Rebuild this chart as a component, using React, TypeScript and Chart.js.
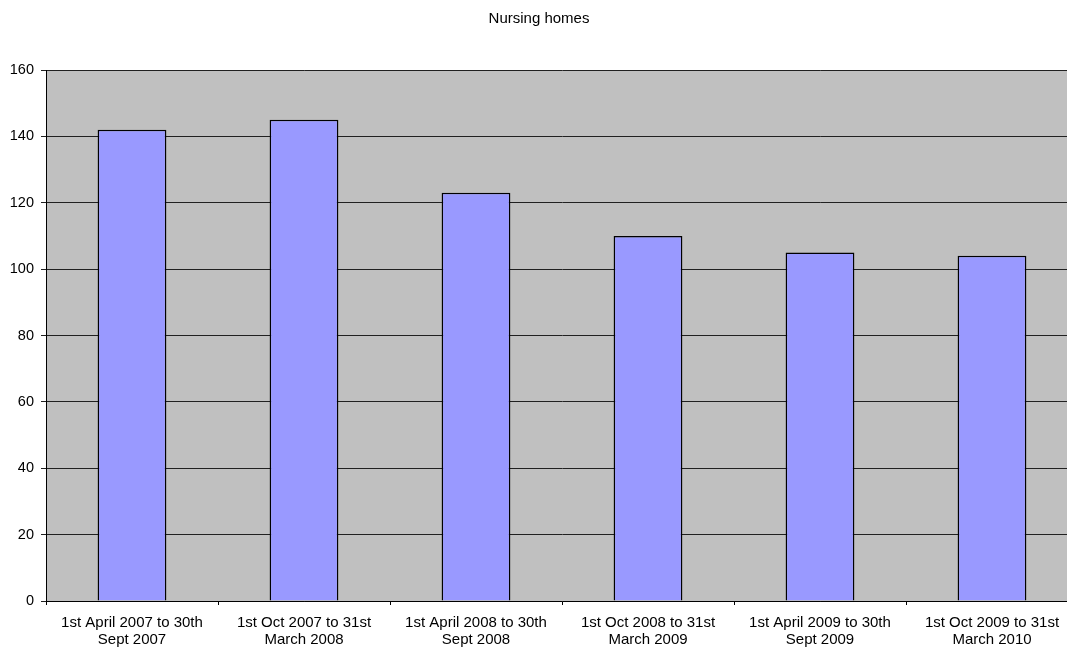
import React, { useEffect, useRef } from "react";
import { Chart, registerables } from "chart.js";

Chart.register(...registerables);

const chartTitle = "Nursing homes";
const periodLabels: string[][] = [
  ["1st April 2007 to 30th", "Sept 2007"],
  ["1st Oct 2007 to 31st", "March 2008"],
  ["1st April 2008 to 30th", "Sept 2008"],
  ["1st Oct 2008 to 31st", "March 2009"],
  ["1st April 2009 to 30th", "Sept 2009"],
  ["1st Oct 2009 to 31st", "March 2010"],
];
const homeCounts: number[] = [142, 145, 123, 110, 105, 104];
const yMin = 0;
const yMax = 160;
const yStep = 20;

const FONT = "'Liberation Sans', Arial, sans-serif";

// The drawing surface is a little wider than the visible frame; the plot
// panel runs past the right edge and is clipped by the container.
const CANVAS_W = 1085;
const CANVAS_H = 651;

// Fills the plot area with a grey panel before anything else is drawn.
const plotBackground = {
  id: "plotBackground",
  beforeDraw(chart: Chart) {
    const { ctx, chartArea } = chart;
    if (!chartArea) return;
    ctx.save();
    ctx.fillStyle = "#C0C0C0";
    ctx.fillRect(
      chartArea.left,
      chartArea.top,
      chartArea.right - chartArea.left,
      chartArea.bottom - chartArea.top
    );
    ctx.restore();
  },
};

export default function App() {
  const canvasRef = useRef<HTMLCanvasElement | null>(null);

  useEffect(() => {
    document.body.style.margin = "0";
    const canvas = canvasRef.current;
    if (!canvas) return;
    const chart = new Chart(canvas, {
      type: "bar",
      data: {
        labels: periodLabels,
        datasets: [
          {
            data: homeCounts,
            backgroundColor: "#9999FF",
            borderColor: "#000000",
            borderWidth: 1.5,
            barPercentage: 0.4,
            categoryPercentage: 1,
          },
        ],
      },
      options: {
        animation: false,
        responsive: false,
        maintainAspectRatio: false,
        layout: { padding: { left: 0, right: 7, top: 0, bottom: 0 } },
        plugins: {
          legend: { display: false },
          tooltip: { enabled: false },
          title: {
            display: true,
            text: chartTitle,
            color: "#000000",
            font: { family: FONT, size: 15, weight: "normal", lineHeight: 1.2 },
            padding: { top: 10, bottom: 42 },
          },
        },
        scales: {
          x: {
            offset: true,
            grid: {
              display: true,
              offset: true,
              drawOnChartArea: false,
              drawTicks: true,
              tickLength: 4,
              color: "#000000",
            },
            border: { display: true, color: "#000000", width: 1 },
            ticks: {
              color: "#000000",
              font: { family: FONT, size: 15, lineHeight: 1.15 },
              padding: 9,
              maxRotation: 0,
              autoSkip: false,
            },
            afterFit(scale: any) {
              scale.height = 50;
            },
          },
          y: {
            min: yMin,
            max: yMax,
            grid: {
              color: "#202020",
              drawTicks: true,
              tickLength: 5,
            },
            border: { display: true, color: "#000000", width: 1 },
            ticks: {
              stepSize: yStep,
              color: "#000000",
              font: { family: FONT, size: 14.5 },
              padding: 7,
            },
            afterFit(scale: any) {
              scale.width = 46;
            },
          },
        },
      },
      plugins: [plotBackground],
    });
    return () => chart.destroy();
  }, []);

  return (
    <div
      style={{
        position: "fixed",
        left: 0,
        top: 0,
        width: 1067,
        height: CANVAS_H,
        overflow: "hidden",
        background: "#ffffff",
      }}
    >
      <canvas
        ref={canvasRef}
        width={CANVAS_W}
        height={CANVAS_H}
        style={{ display: "block", width: CANVAS_W, height: CANVAS_H }}
      />
    </div>
  );
}
